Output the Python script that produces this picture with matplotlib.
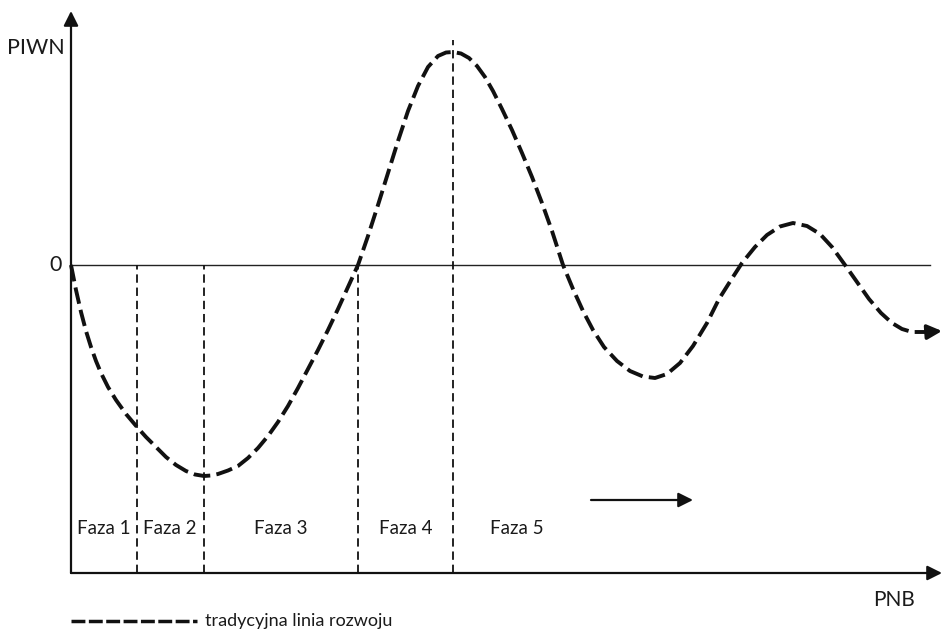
import matplotlib.pyplot as plt

plt.rcParams['font.family'] = ['Lato', 'DejaVu Sans']
plt.rcParams['lines.scale_dashes'] = False

# curve: x = PNB, y = PIWN (0 = zero line)
curve_x = [0, 5, 10, 15, 20, 25, 30, 37, 45, 55, 66, 75, 85, 95, 105, 115, 124,
           133, 140, 147, 157, 167, 177, 187, 197, 207, 217, 227, 237, 247, 257,
           267, 277, 287, 297, 307, 317, 327, 337, 347, 357, 367, 375, 382, 390,
           398, 406, 414, 422, 431, 441, 451, 461, 471, 481, 492, 502, 512, 522,
           533, 546, 559, 572, 584, 596, 609, 622, 636, 648, 660, 671, 684, 696,
           709, 722, 736, 749, 761, 774, 786, 798, 810, 821, 831, 841, 856]
curve_y = [0, -25, -47, -66, -82, -96, -108, -122, -135, -149, -162, -172, -182,
           -192, -200, -206, -209.5, -211, -210.5, -209, -205.5, -201, -193,
           -183, -171, -157, -141, -123, -104, -85, -65, -44, -22, 0, 29, 60, 92,
           124, 154, 179, 198, 209, 212.5, 213, 211.5, 207, 199, 188, 174, 156,
           135, 112, 88, 62, 34, 0, -24, -46, -65, -82, -96, -106, -111.5, -113,
           -109, -98, -81, -58, -34, -15, 2, 18, 30, 38.5, 42, 39, 31, 18, 0, -17,
           -34, -48, -58, -64, -67, -67]

phase_bounds = [66, 133, 287, 382]
phase_labels = ['Faza 1', 'Faza 2', 'Faza 3', 'Faza 4', 'Faza 5']
phase_label_x = [33, 99, 210, 335, 446]
peak_x = 382

x_axis_y = -308
x_max = 871
y_max = 254

fig = plt.figure(figsize=(9.42, 6.35), dpi=100)
ax = fig.add_axes([0, 0, 1, 1])
ax.set_xlim(-71, 871)
ax.set_ylim(-370, 265)
ax.axis('off')

# axes with arrow heads
ax.annotate('', xy=(0, y_max), xytext=(0, x_axis_y),
            arrowprops=dict(arrowstyle='-|>', color='#111111', lw=1.6,
                            mutation_scale=22, shrinkA=0, shrinkB=0))
ax.annotate('', xy=(x_max, x_axis_y), xytext=(0, x_axis_y),
            arrowprops=dict(arrowstyle='-|>', color='#111111', lw=1.6,
                            mutation_scale=22, shrinkA=0, shrinkB=0))
ax.plot([0, 859], [0, 0], color='#222222', lw=1.0)

# phase borders
for bx in phase_bounds:
    top = 0 if bx != peak_x else 225
    ax.plot([bx, bx], [x_axis_y, top], color='#111111', lw=1.3,
            dashes=(6, 3.5))

for lx, lab in zip(phase_label_x, phase_labels):
    ax.text(lx, -263, lab, ha='center', va='center', fontsize=13.5, color='#1a1a1a')

# development curve
ax.plot(curve_x, curve_y, color='#111111', lw=2.8, dashes=(12, 4.5),
        solid_joinstyle='round', dash_capstyle='butt')
ax.annotate('', xy=(871, -66), xytext=(856, -67),
            arrowprops=dict(arrowstyle='-|>', color='#111111', lw=2.5,
                            mutation_scale=22, shrinkA=0, shrinkB=0))

# direction arrow
ax.annotate('', xy=(622, -235), xytext=(520, -235),
            arrowprops=dict(arrowstyle='-|>', color='#111111', lw=1.6,
                            mutation_scale=22, shrinkA=0, shrinkB=0))

ax.text(-6, 217, 'PIWN', ha='right', va='center', fontsize=15.5, color='#1a1a1a')
ax.text(-9, 0, '0', ha='right', va='center', fontsize=15.5, color='#1a1a1a')
ax.text(823, -335, 'PNB', ha='center', va='center', fontsize=15, color='#1a1a1a')

# legend
ax.plot([0, 126], [-356, -356], color='#111111', lw=2.5, dashes=(10, 2.5))
ax.text(134, -356, 'tradycyjna linia rozwoju', ha='left', va='center',
        fontsize=13, color='#1a1a1a')

fig.savefig('out.png', dpi=100)
